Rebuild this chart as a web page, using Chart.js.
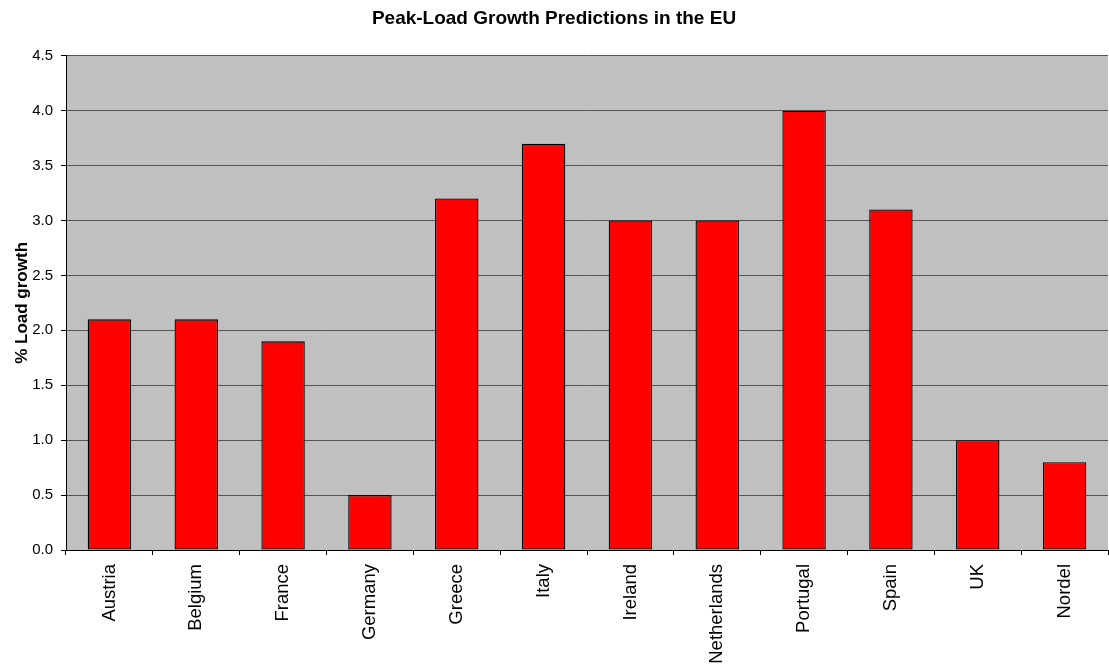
<!DOCTYPE html>
<html>
<head>
<meta charset="utf-8">
<script src="https://cdn.jsdelivr.net/npm/chart.js@4/dist/chart.umd.min.js"></script>
<style>
html,body{margin:0;padding:0;background:#fff;}
#wrap{width:1109px;height:669px;position:relative;}
</style>
</head>
<body>
<div id="wrap"><canvas id="c" width="1109" height="669"></canvas></div>
<script>
const categories = ["Austria","Belgium","France","Germany","Greece","Italy","Ireland","Netherlands","Portugal","Spain","UK","Nordel"];
const loadGrowth = [2.1,2.1,1.9,0.5,3.2,3.7,3.0,3.0,4.0,3.1,1.0,0.8];
const yMin = 0, yMax = 4.5, yStep = 0.5;
const chartTitle = "Peak-Load Growth Predictions in the EU";
const yAxisTitle = "% Load growth";

const FONT = "'Liberation Sans', Arial, sans-serif";

const plotBg = {
  id: 'plotBg',
  beforeDraw(chart) {
    const {ctx, chartArea: a} = chart;
    ctx.save();
    ctx.fillStyle = '#C0C0C0';
    ctx.fillRect(a.left, a.top, a.right - a.left, a.bottom - a.top);
    ctx.restore();
  }
};

new Chart(document.getElementById('c'), {
  type: 'bar',
  data: {
    labels: categories,
    datasets: [{
      data: loadGrowth,
      backgroundColor: '#FF0000',
      borderColor: '#000000',
      borderWidth: 1.3,
      borderSkipped: false,
      barPercentage: 0.5,
      categoryPercentage: 1.0
    }]
  },
  plugins: [plotBg],
  options: {
    responsive: false,
    animation: false,
    layout: { padding: { left: 0, right: 1, top: 0, bottom: 0 } },
    plugins: {
      legend: { display: false },
      tooltip: { enabled: false },
      title: {
        display: true,
        text: chartTitle,
        color: '#000',
        font: { family: FONT, size: 19, weight: 'bold' },
        padding: { top: 7, bottom: 26 }
      }
    },
    scales: {
      x: {
        grid: { display: true, drawOnChartArea: false, offset: true, tickLength: 5, color: '#000', tickColor: '#000' },
        border: { display: true, color: '#000', width: 1 },
        ticks: {
          color: '#000',
          font: { family: FONT, size: 18.5 },
          maxRotation: 90, minRotation: 90,
          padding: 9,
          autoSkip: false
        },
        afterFit(scale) { scale.height = 119; }
      },
      y: {
        min: yMin, max: yMax,
        grid: { color: '#555555', lineWidth: 1, tickLength: 5, tickColor: '#000' },
        border: { display: true, color: '#000', width: 1 },
        ticks: {
          stepSize: yStep,
          color: '#000',
          font: { family: FONT, size: 15 },
          padding: 8,
          callback: v => Number(v).toFixed(1)
        },
        title: {
          display: true,
          text: yAxisTitle,
          color: '#000',
          font: { family: FONT, size: 17, weight: 'bold' },
          padding: { top: 12, bottom: 0 }
        },
        afterFit(scale) { scale.width = 66; }
      }
    }
  }
});
</script>
</body>
</html>
